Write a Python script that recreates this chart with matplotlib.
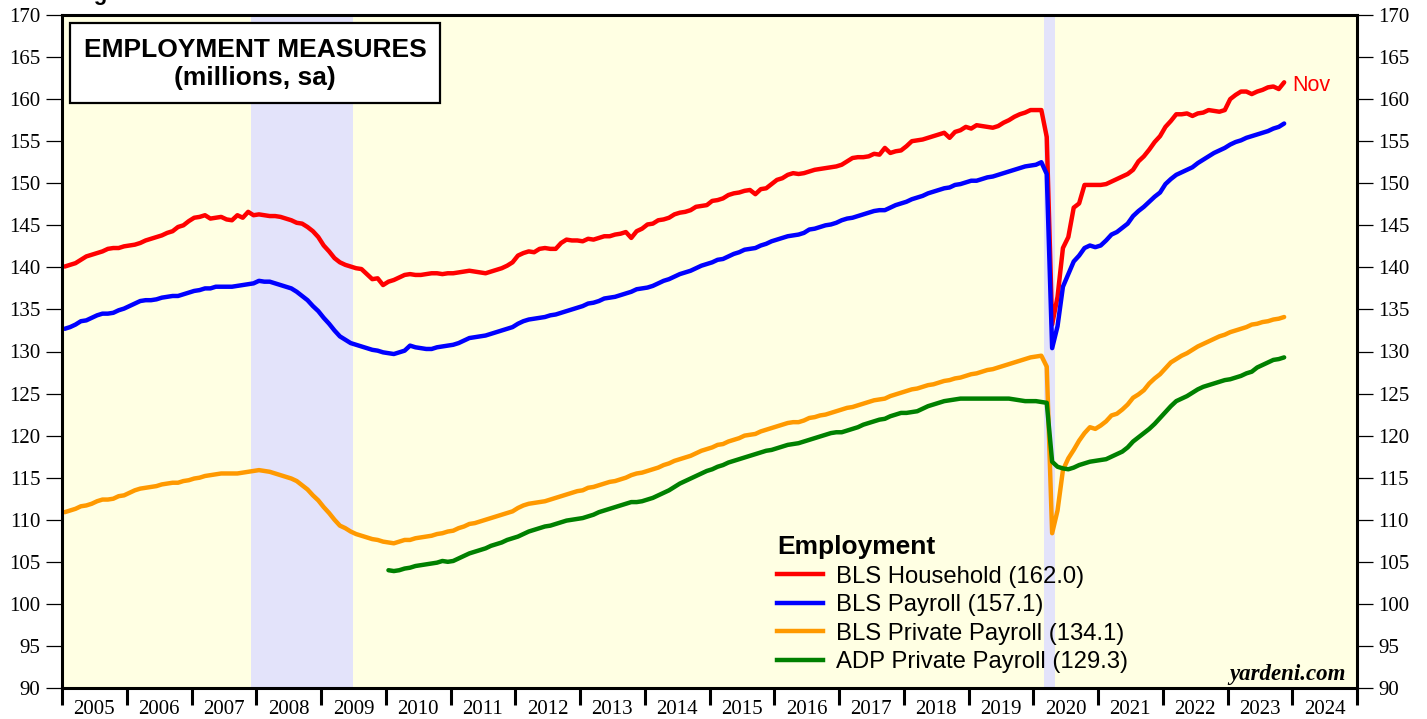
import numpy as np
import matplotlib
matplotlib.use('Agg')
import matplotlib.pyplot as plt
from matplotlib.lines import Line2D
from matplotlib.patches import Rectangle

# monthly values, millions, seasonally adjusted
household = [
    140.1, 140.3, 140.5, 140.9, 141.3, 141.5, 141.7, 141.9, 142.2, 142.3, 142.3, 142.5,  # 2005
    142.6, 142.7, 142.9, 143.2, 143.4, 143.6, 143.8, 144.1, 144.3, 144.8, 145.0, 145.5,  # 2006
    145.9, 146.0, 146.2, 145.8, 145.9, 146.0, 145.7, 145.6, 146.2, 145.9, 146.6, 146.2,  # 2007
    146.3, 146.2, 146.1, 146.1, 146.0, 145.8, 145.6, 145.3, 145.2, 144.8, 144.3, 143.6,  # 2008
    142.6, 141.9, 141.1, 140.6, 140.3, 140.1, 139.9, 139.8, 139.2, 138.6, 138.7, 137.9,  # 2009
    138.3, 138.5, 138.8, 139.1, 139.2, 139.1, 139.1, 139.2, 139.3, 139.3, 139.2, 139.3,  # 2010
    139.3, 139.4, 139.5, 139.6, 139.5, 139.4, 139.3, 139.5, 139.7, 139.9, 140.2, 140.6,  # 2011
    141.4, 141.7, 141.9, 141.8, 142.2, 142.3, 142.2, 142.2, 142.9, 143.3, 143.2, 143.2,  # 2012
    143.1, 143.4, 143.3, 143.5, 143.7, 143.7, 143.9, 144.0, 144.2, 143.5, 144.3, 144.6,  # 2013
    145.1, 145.2, 145.6, 145.7, 145.9, 146.3, 146.5, 146.6, 146.8, 147.2, 147.3, 147.4,  # 2014
    147.9, 148.0, 148.2, 148.6, 148.8, 148.9, 149.1, 149.2, 148.7, 149.3, 149.4, 149.9,  # 2015
    150.4, 150.6, 151.0, 151.2, 151.1, 151.2, 151.4, 151.6, 151.7, 151.8, 151.9, 152.0,  # 2016
    152.2, 152.6, 153.0, 153.1, 153.1, 153.2, 153.5, 153.4, 154.2, 153.6, 153.8, 153.9,  # 2017
    154.4, 155.0, 155.1, 155.2, 155.4, 155.6, 155.8, 156.0, 155.4, 156.1, 156.3, 156.7,  # 2018
    156.5, 156.9, 156.8, 156.7, 156.6, 156.8, 157.2, 157.5, 157.9, 158.2, 158.4, 158.7,  # 2019
    158.7, 158.7, 155.5, 133.2, 136.5, 142.3, 143.6, 147.1, 147.6, 149.8, 149.8, 149.8,  # 2020
    149.8, 149.9, 150.2, 150.5, 150.8, 151.1, 151.6, 152.6, 153.2, 154.0, 154.9, 155.6,  # 2021
    156.7, 157.4, 158.2, 158.2, 158.3, 158.0, 158.3, 158.4, 158.7, 158.6, 158.5, 158.7,  # 2022
    160.0, 160.5, 160.9, 160.9, 160.6, 160.9, 161.1, 161.4, 161.5, 161.2, 162.0,         # 2023
]
payroll = [
    132.7, 132.9, 133.2, 133.6, 133.7, 134.0, 134.3, 134.5, 134.5, 134.6, 134.9, 135.1,
    135.4, 135.7, 136.0, 136.1, 136.1, 136.2, 136.4, 136.5, 136.6, 136.6, 136.8, 137.0,
    137.2, 137.3, 137.5, 137.5, 137.7, 137.7, 137.7, 137.7, 137.8, 137.9, 138.0, 138.1,
    138.4, 138.3, 138.3, 138.1, 137.9, 137.7, 137.5, 137.1, 136.6, 136.1, 135.4, 134.8,
    134.0, 133.3, 132.5, 131.8, 131.4, 131.0, 130.8, 130.6, 130.4, 130.2, 130.1, 129.9,
    129.8, 129.7, 129.9, 130.1, 130.7, 130.5, 130.4, 130.3, 130.3, 130.5, 130.6, 130.7,
    130.8, 131.0, 131.3, 131.6, 131.7, 131.8, 131.9, 132.1, 132.3, 132.5, 132.7, 132.9,
    133.3, 133.6, 133.8, 133.9, 134.0, 134.1, 134.3, 134.4, 134.6, 134.8, 135.0, 135.2,
    135.4, 135.7, 135.8, 136.0, 136.3, 136.4, 136.5, 136.7, 136.9, 137.1, 137.4, 137.5,
    137.6, 137.8, 138.1, 138.4, 138.6, 138.9, 139.2, 139.4, 139.6, 139.9, 140.2, 140.4,
    140.6, 140.9, 141.0, 141.3, 141.6, 141.8, 142.1, 142.2, 142.3, 142.6, 142.8, 143.1,
    143.3, 143.5, 143.7, 143.8, 143.9, 144.1, 144.5, 144.6, 144.8, 145.0, 145.1, 145.3,
    145.6, 145.8, 145.9, 146.1, 146.3, 146.5, 146.7, 146.8, 146.8, 147.1, 147.4, 147.6,
    147.8, 148.1, 148.3, 148.5, 148.8, 149.0, 149.2, 149.4, 149.5, 149.8, 149.9, 150.1,
    150.3, 150.3, 150.5, 150.7, 150.8, 151.0, 151.2, 151.4, 151.6, 151.8, 152.0, 152.1,
    152.2, 152.5, 151.1, 130.4, 133.0, 137.7, 139.2, 140.7, 141.4, 142.3, 142.6, 142.4,
    142.6, 143.2, 143.9, 144.2, 144.7, 145.2, 146.1, 146.7, 147.2, 147.8, 148.4, 148.9,
    149.9, 150.5, 151.0, 151.3, 151.6, 151.9, 152.4, 152.8, 153.2, 153.6, 153.9, 154.2,
    154.6, 154.9, 155.1, 155.4, 155.6, 155.8, 156.0, 156.2, 156.5, 156.7, 157.1,
]
private_payroll = [
    110.9, 111.1, 111.3, 111.6, 111.7, 111.9, 112.2, 112.4, 112.4, 112.5, 112.8, 112.9,
    113.2, 113.5, 113.7, 113.8, 113.9, 114.0, 114.2, 114.3, 114.4, 114.4, 114.6, 114.7,
    114.9, 115.0, 115.2, 115.3, 115.4, 115.5, 115.5, 115.5, 115.5, 115.6, 115.7, 115.8,
    115.9, 115.8, 115.7, 115.5, 115.3, 115.1, 114.9, 114.6, 114.1, 113.6, 112.9, 112.3,
    111.5, 110.8, 110.0, 109.3, 109.0, 108.6, 108.3, 108.1, 107.9, 107.7, 107.6, 107.4,
    107.3, 107.2, 107.4, 107.6, 107.6, 107.8, 107.9, 108.0, 108.1, 108.3, 108.4, 108.6,
    108.7, 109.0, 109.2, 109.5, 109.6, 109.8, 110.0, 110.2, 110.4, 110.6, 110.8, 111.0,
    111.4, 111.7, 111.9, 112.0, 112.1, 112.2, 112.4, 112.6, 112.8, 113.0, 113.2, 113.4,
    113.5, 113.8, 113.9, 114.1, 114.3, 114.5, 114.6, 114.8, 115.0, 115.3, 115.5, 115.6,
    115.8, 116.0, 116.2, 116.5, 116.7, 117.0, 117.2, 117.4, 117.6, 117.9, 118.2, 118.4,
    118.6, 118.9, 119.0, 119.3, 119.5, 119.7, 120.0, 120.1, 120.2, 120.5, 120.7, 120.9,
    121.1, 121.3, 121.5, 121.6, 121.6, 121.8, 122.1, 122.2, 122.4, 122.5, 122.7, 122.9,
    123.1, 123.3, 123.4, 123.6, 123.8, 124.0, 124.2, 124.3, 124.4, 124.7, 124.9, 125.1,
    125.3, 125.5, 125.6, 125.8, 126.0, 126.1, 126.3, 126.5, 126.6, 126.8, 126.9, 127.1,
    127.3, 127.4, 127.6, 127.8, 127.9, 128.1, 128.3, 128.5, 128.7, 128.9, 129.1, 129.3,
    129.4, 129.5, 128.2, 108.4, 111.1, 115.9, 117.3, 118.3, 119.4, 120.3, 121.0, 120.8,
    121.2, 121.7, 122.4, 122.6, 123.1, 123.7, 124.5, 124.9, 125.4, 126.2, 126.8, 127.3,
    128.0, 128.7, 129.1, 129.5, 129.8, 130.2, 130.6, 130.9, 131.2, 131.5, 131.8, 132.0,
    132.3, 132.5, 132.7, 132.9, 133.2, 133.3, 133.5, 133.6, 133.8, 133.9, 134.1,
]
# ADP series starts Jan 2010
adp_private = [
    104.0, 103.9, 104.0, 104.2, 104.3, 104.5, 104.6, 104.7, 104.8, 104.9, 105.1, 105.0,
    105.1, 105.4, 105.7, 106.0, 106.2, 106.4, 106.6, 106.9, 107.1, 107.3, 107.6, 107.8,
    108.0, 108.3, 108.6, 108.8, 109.0, 109.2, 109.3, 109.5, 109.7, 109.9, 110.0, 110.1,
    110.2, 110.4, 110.6, 110.9, 111.1, 111.3, 111.5, 111.7, 111.9, 112.1, 112.1, 112.2,
    112.4, 112.6, 112.9, 113.2, 113.5, 113.9, 114.3, 114.6, 114.9, 115.2, 115.5, 115.8,
    116.0, 116.3, 116.5, 116.8, 117.0, 117.2, 117.4, 117.6, 117.8, 118.0, 118.2, 118.3,
    118.5, 118.7, 118.9, 119.0, 119.1, 119.3, 119.5, 119.7, 119.9, 120.1, 120.3, 120.4,
    120.4, 120.6, 120.8, 121.0, 121.3, 121.5, 121.7, 121.9, 122.0, 122.3, 122.5, 122.7,
    122.7, 122.8, 122.9, 123.2, 123.5, 123.7, 123.9, 124.1, 124.2, 124.3, 124.4, 124.4,
    124.4, 124.4, 124.4, 124.4, 124.4, 124.4, 124.4, 124.4, 124.3, 124.2, 124.1, 124.1,
    124.1, 124.0, 123.9, 116.9, 116.3, 116.1, 116.0, 116.2, 116.5, 116.7, 116.9, 117.0,
    117.1, 117.2, 117.5, 117.8, 118.1, 118.6, 119.3, 119.8, 120.3, 120.8, 121.4, 122.1,
    122.8, 123.5, 124.1, 124.4, 124.7, 125.1, 125.5, 125.8, 126.0, 126.2, 126.4, 126.6,
    126.7, 126.9, 127.1, 127.4, 127.6, 128.1, 128.4, 128.7, 129.0, 129.1, 129.3,
]

series = [
    ('BLS Household (162.0)', household, 2005, '#ff0000'),
    ('BLS Payroll (157.1)', payroll, 2005, '#0000ff'),
    ('BLS Private Payroll (134.1)', private_payroll, 2005, '#ff9900'),
    ('ADP Private Payroll (129.3)', adp_private, 2010, '#008000'),
]

recessions = [(2007 + 11 / 12, 2009 + 6 / 12), (2020 + 2 / 12, 2020 + 4 / 12)]
years = list(range(2005, 2025))


def month_dates(start_year, n):
    # plot each month at its middle
    return start_year + (np.arange(n) + 0.5) / 12


fig = plt.figure(figsize=(14.27, 7.19), dpi=100)
ax = fig.add_axes([62 / 1427, 31 / 719, 1295 / 1427, 673 / 719])
ax.set_facecolor('#ffffe3')

for start, end in recessions:
    ax.axvspan(start, end, color='#e3e3fa', lw=0, zorder=0)

handles = []
for label, values, start, color in series:
    ax.plot(month_dates(start, len(values)), values, color=color, lw=3.2,
            solid_joinstyle='round', solid_capstyle='round', zorder=3)
    handles.append(Line2D([], [], color=color, lw=3.2, label=label))

last_x = month_dates(2005, len(household))[-1]
ax.annotate('Nov', xy=(last_x, household[-1]), xytext=(6, -2), textcoords='offset points',
            color='#ff0000', fontsize=15.5, family='Liberation Sans', va='center', ha='left')

ax.set_xlim(2005, 2025)
ax.set_ylim(90, 170)

ax.set_yticks(np.arange(90, 171, 5))
ax.tick_params(axis='y', which='major', direction='out', length=11.5, width=0.9,
               left=True, right=True, labelleft=True, labelright=True, pad=4,
               labelsize=15)
ax.set_xticks(range(2005, 2026))
ax.set_xticklabels([])
ax.set_xticks([y + 0.5 for y in years], minor=True)
ax.set_xticklabels([str(y) for y in years], minor=True)
ax.tick_params(axis='x', which='major', direction='out', length=12, width=2.2)
ax.tick_params(axis='x', which='minor', length=0, pad=9, labelsize=15)
for lab in ax.get_xticklabels(minor=True):
    lab.set_family('Liberation Serif')
for t in ax.yaxis.get_major_ticks():
    t.label1.set_family('Liberation Serif')
    t.label2.set_family('Liberation Serif')

for side in ['left', 'right', 'top', 'bottom']:
    ax.spines[side].set_linewidth(2.2)
    ax.spines[side].set_zorder(5)

# title box
box = Rectangle(((70 - 62) / 1295, (688 - 103) / 673), 370 / 1295, 80 / 673,
                transform=ax.transAxes, facecolor='white', edgecolor='black', lw=1.6, zorder=6)
ax.add_patch(box)
ax.text((255 - 62) / 1295, (688 - 64) / 673, 'EMPLOYMENT MEASURES\n(millions, sa)',
        transform=ax.transAxes, ha='center', va='center', fontsize=19, fontweight='bold',
        family='Liberation Sans', linespacing=1.25, zorder=7)

leg = ax.legend(handles=handles, loc='upper left', bbox_to_anchor=(0.5525, 0.227),
                frameon=False, title='Employment', alignment='left',
                title_fontproperties={'family': 'Liberation Sans', 'weight': 'bold', 'size': 19},
                prop={'family': 'Liberation Sans', 'size': 17.2},
                handlelength=1.9, handletextpad=0.55, labelspacing=0.27,
                borderpad=0, borderaxespad=0)
leg.set_zorder(6)

ax.text(0.9915, 0.004, 'yardeni.com', transform=ax.transAxes, ha='right', va='bottom',
        fontsize=16.5, fontweight='bold', fontstyle='italic', family='Liberation Serif')

# page caption, cut off by the top edge as in the source
fig.text(74 / 1427, 1.0, 'Figure 5.', ha='left', va='baseline', fontsize=16,
         fontweight='bold', family='Liberation Sans')

fig.savefig('out.png', dpi=100, facecolor='white')
